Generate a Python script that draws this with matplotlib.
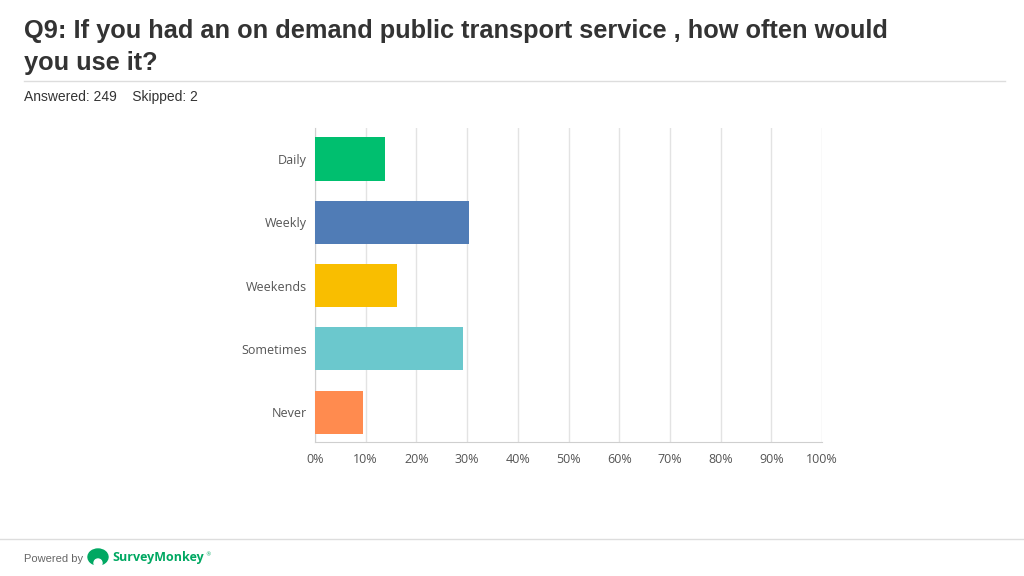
import matplotlib
matplotlib.use("Agg")
import matplotlib.pyplot as plt
from matplotlib.patches import Ellipse
import numpy as np

# data
categories = ["Daily", "Weekly", "Weekends", "Sometimes", "Never"]
values = [13.9, 30.3, 16.2, 29.1, 9.4]
colors = ["#00BF6F", "#507CB6", "#F9BE00", "#6BC8CD", "#FF8B4F"]
xticks = list(range(0, 101, 10))
xtick_labels = ["{}%".format(t) for t in xticks]

fig = plt.figure(figsize=(10.24, 5.76), dpi=100)
fig.patch.set_facecolor("white")

ax = fig.add_axes([315/1024, 1-442/576, (822-315)/1024, (442-128)/576])
y = np.arange(len(categories))
ax.barh(y, values, height=0.68, color=colors, zorder=3)
ax.set_xlim(0, 100)
ax.set_ylim(4.47, -0.49)
ax.set_xticks(xticks)
ax.set_xticklabels(xtick_labels)
ax.set_yticks(y)
ax.set_yticklabels(categories)
ax.grid(axis="x", color="#e3e3e3", linewidth=1, zorder=0)
for s in ["top", "right"]:
    ax.spines[s].set_visible(False)
ax.spines["left"].set_color("#cfcfcf")
ax.spines["bottom"].set_color("#cfcfcf")
ax.tick_params(axis="both", length=0, labelsize=9, labelcolor="#555555")
ax.tick_params(axis="x", pad=8)
ax.tick_params(axis="y", pad=6)
for lab in ax.get_xticklabels() + ax.get_yticklabels():
    lab.set_family("Open Sans")

fig.text(24/1024, 1-31/576, "Q9: If you had an on demand public transport service , how often would",
         fontsize=18.3, fontweight="bold", color="#333333", family="Liberation Sans", va="center")
fig.text(24/1024, 1-63/576, "you use it?",
         fontsize=18.3, fontweight="bold", color="#333333", family="Liberation Sans", va="center")
fig.add_artist(plt.Line2D([24/1024, 1005/1024], [1-81/576, 1-81/576], color="#dddddd", linewidth=1))
fig.text(24/1024, 1-97/576, "Answered: 249    Skipped: 2", fontsize=10, color="#333333",
         family="Liberation Sans", va="center")

fig.add_artist(plt.Line2D([0, 1], [1-539/576, 1-539/576], color="#dddddd", linewidth=1))
fig.text(24/1024, 1-559/576, "Powered by", fontsize=8, color="#666666", family="Liberation Sans", va="center")
fig.text(112/1024, 1-558/576, "SurveyMonkey", fontsize=9, fontweight="bold", color="#00A862",
         family="Open Sans", va="center")
fig.text(205/1024, 1-555/576, "\u00ae", fontsize=4, color="#00A862", va="center")
# simple stand-in for the logo
fig.add_artist(Ellipse((98/1024, 1-557/576), 20/1024, 16/576, color="#00A862"))
fig.add_artist(Ellipse((98/1024, 1-563/576), 8/1024, 8/576, color="white"))

fig.savefig("out.png", dpi=100)
